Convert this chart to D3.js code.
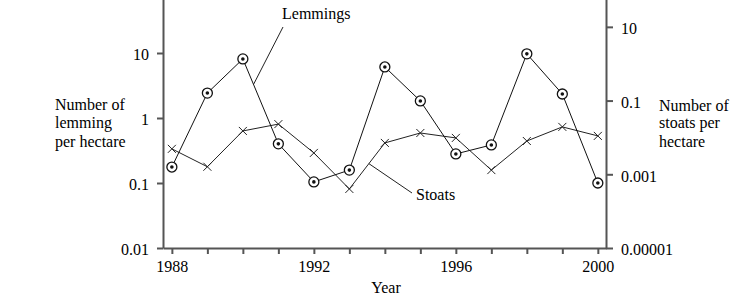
<!DOCTYPE html>
<html>
<head>
<meta charset="utf-8">
<script src="https://cdn.jsdelivr.net/npm/d3@7"></script>
<style>
  body { margin: 0; background: #fff; }
</style>
</head>
<body>
<div id="chart"></div>
<script>
const years = [1988,1989,1990,1991,1992,1993,1994,1995,1996,1997,1998,1999,2000];
const lemmings = [0.176,2.42,8.1,0.40,0.104,0.158,6.1,1.83,0.28,0.385,9.7,2.34,0.10];
const stoats = [0.0049,0.0016,0.015,0.023,0.0038,0.0004,0.0071,0.0132,0.0097,0.0013,0.0080,0.0193,0.0110];

const leftTicks = [0.01,0.1,1,10];
const leftTickLabels = ["0.01","0.1","1","10"];
const rightTicks = [0.00001,0.001,0.1,10];
const rightTickLabels = ["0.00001","0.001","0.1","10"];
const yearLabels = ["1988","1992","1996","2000"];

const width = 742, height = 303;
const axisColor = "#555";
const FONT = "'Liberation Serif', 'Times New Roman', Times, serif";

let svg = d3.select("#chart")
  .append("svg")
    .attr("width", width)
    .attr("height", height)
    .attr("font-family", FONT)
    .attr("font-size", 16);

let x = d3.scaleLinear()
  .domain([1987.75, 2000.23])
  .range([163, 606]);

let yL = d3.scaleLog()
  .domain([0.01, 100])
  .range([248, -12]);

let yR = d3.scaleLog()
  .domain([0.00001, 100])
  .range([248, -10]);

// axes
let xAxis = svg.append("g")
  .attr("transform", "translate(0,248)")
  .call(d3.axisBottom(x)
    .tickValues(years)
    .tickSize(6)
    .tickSizeOuter(0)
    .tickPadding(7)
    .tickFormat(d => yearLabels.indexOf(String(d)) >= 0 ? String(d) : ""));

let leftAxis = svg.append("g")
  .attr("transform", "translate(163,0)")
  .call(d3.axisLeft(yL)
    .tickValues(leftTicks)
    .tickSize(6)
    .tickSizeOuter(0)
    .tickPadding(8)
    .tickFormat((d, i) => leftTickLabels[i]));

let rightAxis = svg.append("g")
  .attr("transform", "translate(606,0)")
  .call(d3.axisRight(yR)
    .tickValues(rightTicks)
    .tickSize(7)
    .tickSizeOuter(0)
    .tickPadding(8)
    .tickFormat((d, i) => rightTickLabels[i]));

[xAxis, leftAxis, rightAxis].forEach(g => {
  g.attr("font-family", FONT).attr("font-size", 16);
  g.selectAll("path.domain").attr("stroke", axisColor).attr("stroke-width", 2);
  g.selectAll(".tick line").attr("stroke", axisColor).attr("stroke-width", 2);
  g.selectAll(".tick text").attr("fill", "#000");
});
leftAxis.selectAll(".tick text").attr("dy", "0.42em");
rightAxis.selectAll(".tick text").attr("dy", "0.42em");

// axis titles
svg.append("text")
  .attr("x", 386)
  .attr("y", 293)
  .attr("text-anchor", "middle")
  .text("Year");

function multiLine(lines, xPos, baselines){
  let t = svg.append("text");
  lines.forEach((s, i) => {
    t.append("tspan").attr("x", xPos).attr("y", baselines[i]).text(s);
  });
}
multiLine(["Number of", "lemming", "per hectare"], 55, [110, 128, 147]);
multiLine(["Number of", "stoats per", "hectare"], 659, [111, 128, 147]);

// stoats line + crosses
let stoatLine = d3.line()
  .x((d, i) => x(years[i]))
  .y(d => yR(d));

svg.append("path")
  .datum(stoats)
  .attr("d", stoatLine)
  .attr("fill", "none")
  .attr("stroke", "#222")
  .attr("stroke-width", 1);

svg.selectAll("path.cross")
  .data(stoats)
  .enter()
  .append("path")
    .attr("class", "cross")
    .attr("transform", (d, i) => "translate(" + x(years[i]) + "," + yR(d) + ")")
    .attr("d", "M-4,-4L4,4M-4,4L4,-4")
    .attr("stroke", "#222")
    .attr("stroke-width", 1);

// lemmings line + circles
let lemLine = d3.line()
  .x((d, i) => x(years[i]))
  .y(d => yL(d));

svg.append("path")
  .datum(lemmings)
  .attr("d", lemLine)
  .attr("fill", "none")
  .attr("stroke", "#111")
  .attr("stroke-width", 1);

let marks = svg.selectAll("g.lem")
  .data(lemmings)
  .enter()
  .append("g")
    .attr("class", "lem")
    .attr("transform", (d, i) => "translate(" + x(years[i]) + "," + yL(d) + ")");
marks.append("circle")
  .attr("r", 5)
  .attr("fill", "#fff")
  .attr("stroke", "#111")
  .attr("stroke-width", 1.3);
marks.append("circle")
  .attr("r", 1.8)
  .attr("fill", "#111");

// leader lines: point along a segment, interpolated in log space
function along(arr, scale, i, t){
  let v = Math.pow(10, Math.log10(arr[i]) * (1 - t) + Math.log10(arr[i + 1]) * t);
  return [x(years[i] + t), scale(v)];
}

let lemPt = along(lemmings, yL, 2, 0.3);
svg.append("line")
  .attr("x1", 283).attr("y1", 27)
  .attr("x2", lemPt[0]).attr("y2", lemPt[1])
  .attr("stroke", "#222").attr("stroke-width", 1);
svg.append("text")
  .attr("x", 282)
  .attr("y", 19)
  .text("Lemmings");

let stoatPt = along(stoats, yR, 5, 0.55);
svg.append("line")
  .attr("x1", stoatPt[0]).attr("y1", stoatPt[1])
  .attr("x2", 412).attr("y2", 193)
  .attr("stroke", "#222").attr("stroke-width", 1);
svg.append("text")
  .attr("x", 416)
  .attr("y", 200)
  .text("Stoats");
</script>
</body>
</html>
